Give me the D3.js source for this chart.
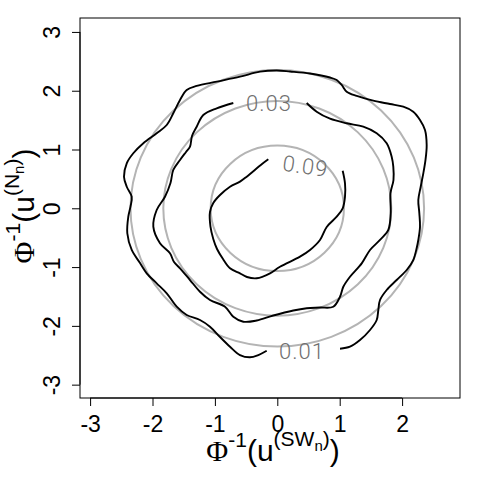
<!DOCTYPE html>
<html><head><meta charset="utf-8">
<script src="https://cdn.jsdelivr.net/npm/d3@7"></script>
<style>body{margin:0;background:#fff}</style>
</head><body><svg id="c" width="480" height="480"></svg>
<script>
const levels = [0.01, 0.03, 0.09];
const xTicks = [-3, -2, -1, 0, 1, 2];
const yTicks = [-3, -2, -1, 0, 1, 2, 3];

const contour01 = [[1.005,-2.389],[1.165,-2.355],[1.325,-2.241],[1.486,-2.070],[1.593,-1.900],[1.619,-1.730],[1.646,-1.560],[1.753,-1.390],[1.913,-1.220],[2.074,-1.050],[2.179,-0.880],[2.234,-0.675],[2.260,-0.539],[2.287,-0.313],[2.276,-0.080],[2.260,0.141],[2.298,0.367],[2.340,0.595],[2.375,0.822],[2.394,1.077],[2.367,1.332],[2.287,1.502],[2.179,1.643],[2.019,1.728],[1.806,1.774],[1.538,1.831],[1.272,1.911],[1.112,1.984],[1.032,2.098],[0.952,2.183],[0.845,2.225],[0.524,2.293],[0.204,2.327],[-0.010,2.344],[-0.277,2.324],[-0.598,2.239],[-0.971,2.154],[-1.292,2.081],[-1.452,2.013],[-1.559,1.842],[-1.667,1.616],[-1.772,1.417],[-1.933,1.276],[-2.147,1.106],[-2.308,0.936],[-2.413,0.766],[-2.457,0.538],[-2.413,0.367],[-2.333,0.197],[-2.353,0.027],[-2.388,-0.143],[-2.404,-0.425],[-2.333,-0.709],[-2.200,-0.931],[-2.093,-1.106],[-1.933,-1.276],[-1.772,-1.446],[-1.612,-1.674],[-1.452,-1.815],[-1.239,-1.900],[-1.079,-2.014],[-0.918,-2.190],[-0.758,-2.355],[-0.598,-2.496],[-0.438,-2.535],[-0.304,-2.496],[-0.170,-2.423]];

const contour03 = [[0.471,1.791],[0.631,1.643],[0.845,1.524],[1.112,1.446],[1.378,1.388],[1.593,1.276],[1.753,1.106],[1.833,0.878],[1.859,0.708],[1.862,0.481],[1.814,0.255],[1.817,-0.085],[1.779,-0.369],[1.646,-0.539],[1.486,-0.709],[1.353,-0.936],[1.165,-1.164],[1.058,-1.334],[1.005,-1.504],[0.897,-1.674],[0.684,-1.688],[0.471,-1.701],[0.256,-1.739],[-0.064,-1.824],[-0.330,-1.909],[-0.545,-1.929],[-0.705,-1.844],[-0.838,-1.674],[-1.079,-1.560],[-1.239,-1.419],[-1.399,-1.220],[-1.559,-1.021],[-1.655,-0.914],[-1.720,-0.766],[-1.880,-0.595],[-1.987,-0.313],[-1.933,-0.029],[-1.800,0.197],[-1.712,0.430],[-1.667,0.652],[-1.559,0.822],[-1.463,0.958],[-1.399,1.048],[-1.367,1.230],[-1.292,1.388],[-1.186,1.587],[-0.971,1.701],[-0.705,1.791]];

const contour09 = [[-0.144,0.834],[-0.245,0.754],[-0.490,0.538],[-0.598,0.453],[-0.758,0.367],[-0.918,0.226],[-1.026,0.090],[-1.079,-0.063],[-1.071,-0.313],[-1.026,-0.522],[-0.966,-0.692],[-0.870,-0.863],[-0.758,-1.021],[-0.598,-1.106],[-0.486,-1.169],[-0.330,-1.191],[-0.117,-1.106],[0.043,-0.994],[0.364,-0.823],[0.524,-0.709],[0.684,-0.539],[0.792,-0.318],[0.952,-0.143],[1.048,0.000],[1.085,0.197],[1.085,0.425],[1.048,0.640]];

const labelText = ["0.01", "0.03", "0.09"];
const labelX = [0.396, -0.133, 0.452];
const labelY = [-2.424, 1.786, 0.720];
const labelAngle = [0, 0, 8];

const svg = d3.select("#c");
const x = d3.scaleLinear().domain([-3.162, 2.928]).range([80, 460]);
const y = d3.scaleLinear().domain([-3.227, 3.237]).range([398, 18]);

// theoretical standard normal contours (gray)
const radii = levels.map(l => Math.sqrt(-2 * Math.log(2 * Math.PI * l)));
svg.append("g").selectAll("ellipse").data(radii).join("ellipse")
  .attr("cx", x(0)).attr("cy", y(0))
  .attr("rx", r => x(r) - x(0)).attr("ry", r => y(0) - y(r))
  .attr("fill", "none").attr("stroke", "#b4b4b4").attr("stroke-width", 2);

// empirical contours (black)
const line = d3.line().x(d => x(d[0])).y(d => y(d[1])).curve(d3.curveCatmullRom.alpha(0.5));
svg.append("g").selectAll("path").data([contour01, contour03, contour09]).join("path")
  .attr("d", line).attr("fill", "none").attr("stroke", "#000").attr("stroke-width", 1.9)
  .attr("stroke-linejoin", "round");

// contour labels
svg.append("g").selectAll("text").data(labelText).join("text")
  .attr("transform", (d, i) => `translate(${x(labelX[i])},${y(labelY[i])}) rotate(${labelAngle[i]})`)
  .attr("text-anchor", "middle").attr("dy", "0.36em")
  .attr("font-family", "Roboto, 'Open Sans', sans-serif").attr("font-weight", 300)
  .attr("font-size", 22).attr("letter-spacing", 1).attr("fill", "#707070")
  .text(d => d);

// box
svg.append("rect").attr("x", 80).attr("y", 18).attr("width", 380).attr("height", 380)
  .attr("fill", "none").attr("stroke", "#000").attr("stroke-width", 1);

const font = "'Liberation Sans', Arial, Helvetica, sans-serif";
// x axis
const gx = svg.append("g").attr("transform", "translate(0,398)")
  .call(d3.axisBottom(x).tickValues(xTicks).tickSize(8).tickFormat(d => String(d)));
gx.select(".domain").remove();
gx.append("line").attr("x1", x(xTicks[0])).attr("x2", x(xTicks[xTicks.length - 1]))
  .attr("stroke", "#000");
gx.selectAll(".tick line").attr("stroke", "#000");
gx.selectAll("text").attr("y", 34).attr("dy", null)
  .attr("font-family", font).attr("font-size", 23).attr("fill", "#000");

// y axis
const gy = svg.append("g").attr("transform", "translate(80,0)")
  .call(d3.axisLeft(y).tickValues(yTicks).tickSize(8).tickFormat(d => String(d)));
gy.select(".domain").remove();
gy.append("line").attr("y1", y(yTicks[0])).attr("y2", y(yTicks[yTicks.length - 1]))
  .attr("stroke", "#000");
gy.selectAll(".tick line").attr("stroke", "#000");
gy.selectAll("text").attr("x", null).attr("dy", null)
  .attr("transform", "translate(-20,0) rotate(-90)").attr("text-anchor", "middle")
  .attr("font-family", font).attr("font-size", 23).attr("fill", "#000");

// axis titles
function title(g, letter) {
  const t = g.append("text").attr("text-anchor", "middle").attr("fill", "#000")
    .attr("font-family", font).attr("font-size", 30);
  t.append("tspan").attr("font-family", "'Liberation Serif','DejaVu Serif',serif").text("Φ");
  t.append("tspan").attr("font-size", 21).attr("dy", -14).text("-1");
  t.append("tspan").attr("dy", 14).text("(u");
  t.append("tspan").attr("font-size", 21).attr("dy", -15).text("(" + letter);
  t.append("tspan").attr("font-size", 15).attr("dy", 5).text("n");
  t.append("tspan").attr("font-size", 21).attr("dy", -5).text(")");
  t.append("tspan").attr("dy", 15).text(")");
}
title(svg.append("g").attr("transform", `translate(${(x.range()[0] + x.range()[1]) / 2 + 3},461)`), "SW");
title(svg.append("g").attr("transform", `translate(34,${(y.range()[0] + y.range()[1]) / 2 - 2}) rotate(-90)`), "N");
</script></body></html>
